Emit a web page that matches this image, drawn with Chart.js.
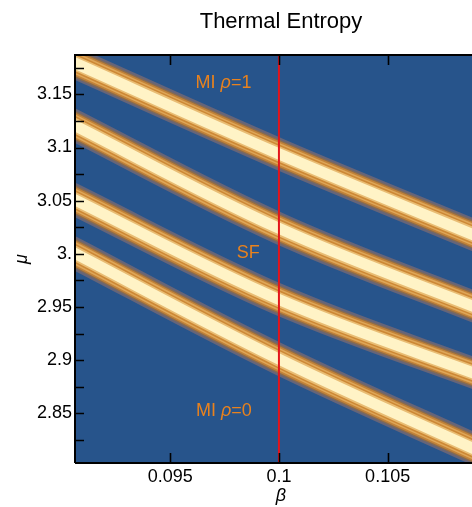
<!DOCTYPE html>
<html>
<head>
<meta charset="utf-8">
<title>Thermal Entropy</title>
<script src="https://cdn.jsdelivr.net/npm/chart.js@4.4.1/dist/chart.umd.min.js"></script>
<style>
    html, body { margin: 0; padding: 0; overflow: hidden; background: #ffffff; }
    #wrap { width: 562px; height: 507px; }
</style>
</head>
<body>
<div id="wrap"><canvas id="chart" width="562" height="507"></canvas></div>
<script>
// ── Données ──
const BETA   = [0.090, 0.100, 0.110];        // beta aux points de contrôle
const BAND_1 = [3.185, 3.094, 3.009];        // centre de chaque bande (mu)
const BAND_2 = [3.127, 3.024, 2.942];
const BAND_3 = [3.057, 2.957, 2.880];
const BAND_4 = [3.007, 2.901, 2.807];

const BETA_MARK = 0.1;                       // ligne rouge verticale

const X_MIN = 0.09062, X_MAX = 0.10957;
const Y_MIN = 2.8033,  Y_MAX = 3.187;

const X_TICKS       = [0.095, 0.1, 0.105];
const X_TICK_LABELS = ['0.095', '0.1', '0.105'];
const Y_TICKS       = [2.85, 2.9, 2.95, 3.0, 3.05, 3.1, 3.15];
const Y_TICK_LABELS = ['2.85', '2.9', '2.95', '3.', '3.05', '3.1', '3.15'];
const Y_MINOR       = [2.825, 2.875, 2.925, 2.975, 3.025, 3.075, 3.125, 3.175];

const TITRE = 'Thermal Entropy';
const LABEL_TEXT = ['MI |ρ|=1', 'SF', 'MI |ρ|=0'];   // segments impairs en italique
const LABEL_BETA = [0.09745, 0.09859, 0.09747];
const LABEL_MU   = [3.1604, 3.0007, 2.8518];

// ── Styles ──
const FONT   = '"Liberation Sans", Arial, Helvetica, sans-serif';
const FOND   = '#27548b';
const ORANGE = '#e8821e';
const ROUGE  = '#e4141b';
// couches de contour, de l'extérieur vers le centre
const LAYER_COLORS = ['#666579', '#8c6c4c', '#c38338', '#dea658', '#cd8835', '#e9bd74', '#fff3c6'];
const LAYER_WIDTHS = [31, 26.5, 23.5, 20.5, 17.5, 14.5, 11];

// ── Jeux de données ──
const datasets = [];
[BAND_1, BAND_2, BAND_3, BAND_4].forEach(band => {
    LAYER_WIDTHS.forEach((w, k) => {
        datasets.push({
            data: BETA.map((b, i) => ({ x: b, y: band[i] })),
            borderColor: LAYER_COLORS[k],
            borderWidth: w,
            order: 20 - k,
            tension: 0.35
        });
    });
});
datasets.push({
    data: [{ x: BETA_MARK, y: Y_MIN - 0.01 }, { x: BETA_MARK, y: Y_MAX + 0.01 }],
    borderColor: ROUGE,
    borderWidth: 2,
    order: 1,
    tension: 0
});

// ── Plugins ──
const fondPlugin = {
    id: 'fond',
    beforeDraw(chart) {
        const { ctx, chartArea: a } = chart;
        ctx.save();
        ctx.fillStyle = FOND;
        ctx.fillRect(a.left, a.top, a.right - a.left, a.bottom - a.top);
        // titre centré sur la zone du tracé
        ctx.fillStyle = '#000';
        ctx.font = '22px ' + FONT;
        ctx.textAlign = 'center';
        ctx.textBaseline = 'middle';
        ctx.fillText(TITRE, (a.left + a.right) / 2, 22);
        ctx.restore();
    }
};

const cadrePlugin = {
    id: 'cadre',
    afterDatasetsDraw(chart) {
        const { ctx, chartArea: a, scales } = chart;
        ctx.save();
        ctx.strokeStyle = '#000';
        ctx.lineWidth = 2;
        ctx.beginPath();
        ctx.moveTo(a.left, a.bottom);
        ctx.lineTo(a.left, a.top);
        ctx.lineTo(a.right, a.top);
        ctx.moveTo(a.left, a.bottom);
        ctx.lineTo(a.right, a.bottom);
        ctx.stroke();

        // graduations vers l'intérieur
        ctx.lineWidth = 1.6;
        ctx.beginPath();
        Y_TICKS.concat(Y_MINOR).forEach(v => {
            const y = Math.round(scales.y.getPixelForValue(v)) + 0.5;
            ctx.moveTo(a.left, y);
            ctx.lineTo(a.left + 9, y);
        });
        X_TICKS.forEach(v => {
            const x = Math.round(scales.x.getPixelForValue(v)) + 0.5;
            ctx.moveTo(x, a.top);
            ctx.lineTo(x, a.top + 10);
            ctx.moveTo(x, a.bottom);
            ctx.lineTo(x, a.bottom - 10);
        });
        ctx.stroke();

        // étiquettes des phases
        ctx.fillStyle = ORANGE;
        ctx.textBaseline = 'middle';
        ctx.textAlign = 'left';
        LABEL_TEXT.forEach((txt, i) => {
            const parts = txt.split('|');
            const fonts = parts.map((_, j) => (j % 2 ? 'italic ' : '') + '18px ' + FONT);
            let total = 0;
            const widths = parts.map((p, j) => {
                ctx.font = fonts[j];
                const w = ctx.measureText(p).width;
                total += w;
                return w;
            });
            let x = scales.x.getPixelForValue(LABEL_BETA[i]) - total / 2;
            const y = scales.y.getPixelForValue(LABEL_MU[i]);
            parts.forEach((p, j) => {
                ctx.font = fonts[j];
                ctx.fillText(p, x, y);
                x += widths[j];
            });
        });
        ctx.restore();
    }
};

// ── Graphique ──
new Chart(document.getElementById('chart'), {
    type: 'line',
    data: { datasets },
    options: {
        responsive: false,
        animation: false,
        layout: { padding: { left: 0, right: 75, top: 55, bottom: 0 } },
        elements: {
            point: { radius: 0 },
            line: { fill: false, borderCapStyle: 'butt', capBezierPoints: false }
        },
        datasets: { line: { clip: 0 } },
        plugins: {
            legend: { display: false },
            tooltip: { enabled: false },
            title: { display: false }
        },
        scales: {
            x: {
                type: 'linear',
                min: X_MIN,
                max: X_MAX,
                afterBuildTicks: s => { s.ticks = X_TICKS.map(v => ({ value: v })); },
                afterFit: s => { s.height = 44; },
                ticks: {
                    callback: (v, i) => X_TICK_LABELS[i],
                    color: '#000',
                    font: { family: FONT, size: 18 },
                    padding: 3,
                    maxRotation: 0,
                    autoSkip: false
                },
                grid: { display: false, drawTicks: false },
                border: { display: false },
                title: {
                    display: true,
                    text: 'β',
                    color: '#000',
                    font: { family: FONT, size: 18, style: 'italic' },
                    padding: { top: 0, bottom: 0 }
                }
            },
            y: {
                type: 'linear',
                min: Y_MIN,
                max: Y_MAX,
                afterBuildTicks: s => { s.ticks = Y_TICKS.map(v => ({ value: v })); },
                afterFit: s => { s.width = 75; },
                ticks: {
                    callback: (v, i) => Y_TICK_LABELS[i],
                    color: '#000',
                    font: { family: FONT, size: 18 },
                    padding: 3,
                    autoSkip: false
                },
                grid: { display: false, drawTicks: false },
                border: { display: false },
                title: {
                    display: true,
                    text: 'μ',
                    color: '#000',
                    font: { family: FONT, size: 18, style: 'italic' },
                    padding: { top: 11, bottom: 11 }
                }
            }
        }
    },
    plugins: [fondPlugin, cadrePlugin]
});
</script>
</body>
</html>
